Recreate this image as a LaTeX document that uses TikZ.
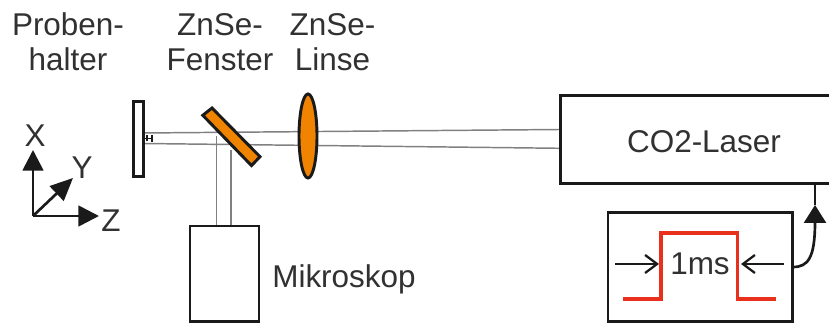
\documentclass[tikz,border=0pt]{standalone}
\usepackage{fontspec}
\setmainfont{Liberation Sans}
\usetikzlibrary{arrows.meta,calc,positioning}
\definecolor{ink}{HTML}{1A1A1A}
\definecolor{lensor}{HTML}{F08300}
\definecolor{pulsered}{HTML}{E8301C}
\definecolor{beamgray}{HTML}{808080}
\tikzset{
  x=0.75pt,y=-0.75pt,
  lbl/.style={font=\fontsize{23.6}{26.25}\selectfont,text=ink!90,align=center,inner sep=0pt},
  boxn/.style={draw=ink,line width=2.2pt,rectangle,inner sep=0pt,anchor=north west,outer sep=0pt},
  optic/.style={draw=ink,line width=2.2pt,fill=lensor},
  beam/.style={draw=beamgray,line width=1.1pt},
  axis/.style={draw=ink,line width=2pt,-{Triangle[length=15.5pt,width=15.5pt]}},
  axisy/.style={draw=ink,line width=2pt,-{Triangle[length=17pt,width=15pt]}},
  pulse/.style={draw=pulsered,line width=2.4pt},
  widtharrow/.style={draw=ink,line width=1.9pt,-{Straight Barb[length=9pt,width=13.5pt,line width=1.7pt]}},
  trig/.style={draw=ink,line width=2pt},
}
\begin{document}
\begin{tikzpicture}
\clip (0,0) rectangle (829,323);
\fill[white] (0,0) rectangle (829,323);

% beams
\coordinate (b1) at (143,133); \coordinate (b2) at (143,143.5);
\coordinate (b3) at (560,129.5); \coordinate (b4) at (560,148.3);
\coordinate (v1) at (216.7,136); \coordinate (v2) at (231,150);
\coordinate (v3) at (216.7,226); \coordinate (v4) at (231,226);
\draw[beam] (b1) -- (b3);
\draw[beam] (b2) -- (b4);
\draw[beam] (v1) -- (v3);
\draw[beam] (v2) -- (v4);

% boxes
\node[boxn,minimum width=225pt,minimum height=66pt] (laser) at (560.5,95.5) {};
\node[lbl] (laserlbl) at (704,142) {CO2-Laser};
\node[boxn,minimum width=51.75pt,minimum height=71.5pt] (mik) at (190,226) {};
\node[lbl] (miklbl) at (344,279) {Mikroskop};
\node[boxn,minimum width=138.4pt,minimum height=81.6pt] (pbox) at (608,212.5) {};

% sample holder
\node[boxn,minimum width=7pt,minimum height=56.25pt] (holder) at (133.7,101.3) {};
\coordinate (s1) at (144,138.5); \coordinate (s2) at (152,138.5);
\draw[draw=ink,line width=1.2pt] (s1) -- (s2);
\draw[draw=ink,line width=1.5pt] (147,135.5) -- (147,141.5);
\draw[draw=ink,line width=1.6pt] (s2) ++(0,-3.5) -- ++(0,7);

% window and lens
\draw[optic] (202.8,115.3) -- (212,108) -- (260,156.7) -- (251.5,165.6) -- cycle;
\draw[optic] (308,136) ellipse [x radius=9,y radius=42];

% axes
\coordinate (o) at (33,216);
\coordinate (ax) at (33,150); \coordinate (ay) at (73,178); \coordinate (az) at (99,216);
\draw[axis] (o) -- (ax);
\draw[axisy] (o) -- (ay);
\draw[axis] (o) -- (az);
\node[lbl] (xl) at (35,135.5) {X};
\node[lbl] (yl) at (82,168) {Y};
\node[lbl] (zl) at (111,220.5) {Z};

% top labels
\node[lbl] (l1) at (68,42) {Proben-\\halter};
\node[lbl] (l2) at (220,42) {ZnSe-\\Fenster};
\node[lbl] (l3) at (332.5,42) {ZnSe-\\Linse};

% pulse
\draw[pulse] (623,299) -- (661,299) -- (661,233) -- (737.5,233) -- (737.5,299) -- (776,299);
\coordinate (a1) at (615,264); \coordinate (a2) at (659,264);
\coordinate (a3) at (784,264); \coordinate (a4) at (741,264);
\draw[widtharrow] (a1) -- (a2);
\draw[widtharrow] (a3) -- (a4);
\node[lbl] (ms) at (700,264) {1ms};

% trigger arrow
\coordinate (t1) at (793,267); \coordinate (t2) at (815,222); \coordinate (t3) at (815,205);
\draw[trig] (t1) .. controls (808,267) and (815,258) .. (t2);
\draw[trig,-{Triangle[length=13.5pt,width=16.5pt]}] (t2) -- (t3);
\draw[trig] (t3) -- (815,184);
\end{tikzpicture}
\end{document}
